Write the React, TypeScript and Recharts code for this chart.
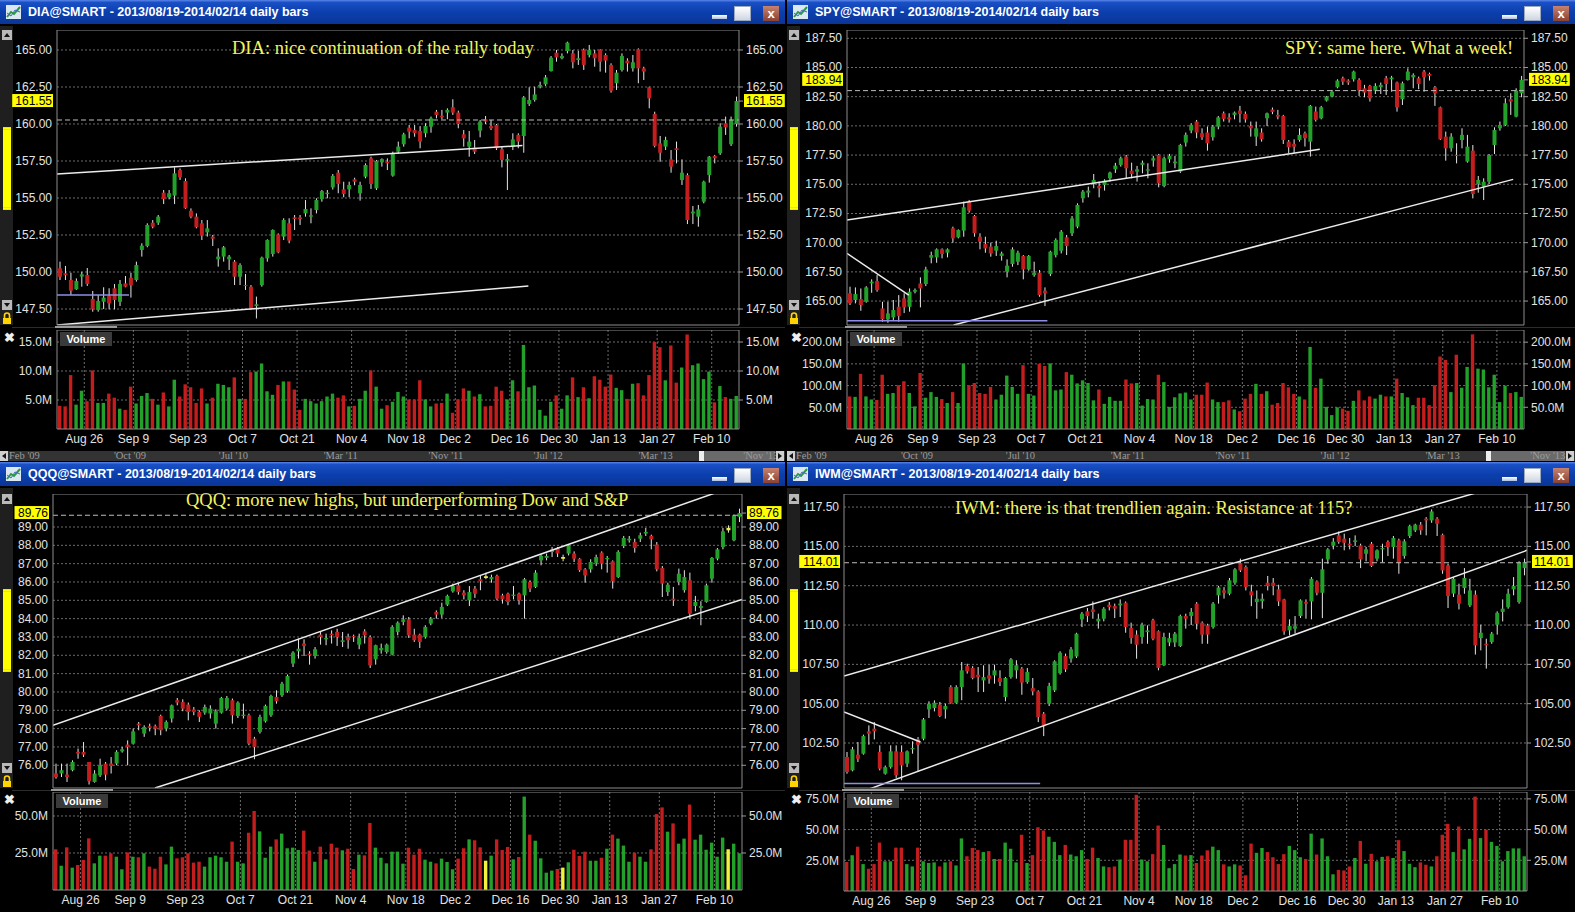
import React from 'react'
import { ComposedChart, Bar, Cell, XAxis, YAxis, CartesianGrid, ReferenceLine } from 'recharts'

// trading-day slots 0..124 (2013/08/19 - 2014/02/14)
const dateTicks = [5, 14, 24, 34, 44, 54, 64, 73, 83, 92, 101, 110, 120]
const dateLabels = ['Aug 26', 'Sep 9', 'Sep 23', 'Oct 7', 'Oct 21', 'Nov 4', 'Nov 18', 'Dec 2', 'Dec 16', 'Dec 30', 'Jan 13', 'Jan 27', 'Feb 10']
const scrollLabels = ["Feb '09", "'Oct '09", "'Jul '10", "'Mar '11", "'Nov '11", "'Jul '12", "'Mar '13", "'Nov '13"]

const diaOpen = [150.25,149.91,149.46,148.83,149.69,149.80,148.18,147.43,147.99,148.40,
148.90,147.99,149.23,149.61,149.46,151.49,151.76,153.33,153.33,155.36,
155.05,155.16,156.89,156.15,154.14,153.74,153.29,152.68,152.39,150.86,
151.04,150.86,150.70,149.68,149.12,149.01,147.70,149.12,150.92,151.22,
152.54,152.39,153.29,153.69,153.69,153.96,153.74,154.19,154.93,155.27,
155.72,156.71,155.59,155.59,156.26,155.32,156.44,157.68,155.65,157.41,
157.45,156.51,158.13,158.63,159.75,159.59,159.53,159.37,159.82,160.83,
160.56,160.77,161.13,160.77,159.30,158.47,158.40,159.55,160.32,159.86,
159.93,158.29,157.52,158.47,159.26,159.19,161.35,161.62,162.52,162.68,
163.58,164.82,164.44,164.93,164.77,164.32,165.00,164.66,164.77,165.00,
164.66,163.99,162.75,163.65,164.28,163.76,165.05,163.76,162.48,160.68,
158.69,158.47,157.61,158.36,156.22,156.55,153.96,153.74,154.75,156.55,
157.84,158.02,160.05,158.63,160.00]
const diaHigh = [150.70,150.41,149.95,149.57,150.02,150.27,148.72,148.45,148.97,148.90,
149.19,149.46,149.73,149.95,150.70,151.94,153.29,153.51,153.85,155.54,
155.54,157.07,157.00,156.33,154.30,153.96,153.51,153.51,152.50,151.60,
151.76,151.15,150.81,150.59,149.86,149.12,148.34,151.04,152.21,152.88,
152.61,153.63,153.63,153.85,153.85,154.86,154.30,154.98,155.54,155.54,
156.62,156.89,156.10,156.10,156.37,156.10,157.34,157.79,157.57,157.68,
157.68,158.13,158.81,159.41,159.93,159.93,159.86,160.05,160.50,160.95,
160.95,161.06,161.67,160.90,159.59,159.53,158.92,160.27,160.54,160.27,
160.00,158.47,157.97,159.37,159.37,161.89,162.48,162.52,162.86,163.31,
164.59,165.00,164.77,165.56,165.00,164.95,165.10,165.34,165.00,165.05,
164.77,164.10,163.65,164.77,164.44,164.66,165.11,163.87,162.52,160.83,
159.19,159.14,158.24,158.81,157.61,156.67,154.46,154.53,156.17,157.84,
157.91,160.05,160.50,160.50,161.85]
const diaLow = [149.46,149.46,148.45,148.79,149.01,149.06,147.32,147.32,147.50,147.48,
147.48,147.70,148.97,148.27,149.35,151.04,151.67,152.95,153.18,154.59,
154.91,154.59,156.22,154.26,153.63,152.95,152.16,152.39,151.76,150.36,
150.70,150.14,149.12,149.12,148.79,147.43,146.86,149.01,150.70,151.04,
151.27,152.16,151.94,152.84,153.18,153.74,153.29,153.96,154.75,154.98,
155.57,155.32,155.05,155.05,155.86,154.82,156.33,155.61,155.54,157.12,
156.89,156.44,158.02,158.47,159.03,159.14,158.36,159.10,159.41,160.38,
160.32,160.32,160.61,159.71,158.47,157.79,157.97,159.10,160.00,159.59,
158.24,157.07,155.54,158.24,158.36,158.06,161.22,161.51,162.41,162.57,
163.54,164.21,164.37,164.77,163.76,163.99,163.65,164.50,163.87,163.54,
163.47,162.12,162.30,163.54,163.54,163.54,162.75,162.97,161.06,158.42,
157.45,158.24,156.71,157.34,155.88,153.24,153.24,153.06,154.64,156.04,
157.34,157.91,159.26,158.51,159.82]
const diaClose = [149.68,149.78,148.74,149.39,149.84,149.19,147.48,148.04,148.27,147.88,
148.11,149.19,149.01,149.10,150.47,151.78,153.18,153.06,153.74,154.93,
155.32,156.67,156.40,154.30,153.74,153.02,152.45,152.95,152.25,151.04,
151.67,151.04,149.68,150.47,149.05,147.48,147.82,150.97,152.16,152.84,
151.33,153.51,152.12,153.58,153.58,154.26,153.83,154.86,155.47,155.36,
156.49,155.95,155.27,155.88,156.10,155.88,157.23,155.95,157.50,157.63,
157.34,158.02,158.47,159.30,159.48,159.37,158.81,159.86,160.38,160.61,
160.45,160.95,160.77,160.00,159.03,158.81,158.13,160.16,160.16,159.71,
158.36,157.57,157.64,158.96,158.81,161.80,161.62,162.00,162.64,163.15,
164.48,164.50,164.59,165.50,164.17,164.44,163.99,165.00,164.44,164.21,
164.28,162.25,163.47,164.59,164.10,164.17,163.76,163.54,161.73,158.51,
158.06,158.92,157.12,158.24,156.71,153.51,154.08,154.23,156.10,157.79,
157.68,159.82,159.77,160.27,161.55]
const diaVol = [4.0,3.9,9.3,4.2,6.6,4.8,10.1,4.5,4.5,6.1,
5.4,3.5,3.3,7.3,4.4,5.7,6.2,5.2,4.2,6.3,
3.9,8.5,5.6,7.7,7.2,4.5,7.0,4.4,5.4,7.8,
7.6,7.2,8.9,5.2,5.2,9.8,9.9,11.3,6.5,5.9,
7.6,8.2,8.2,6.8,3.3,5.2,4.8,4.4,4.8,5.6,
6.1,5.4,5.8,3.9,4.0,5.2,6.6,10.1,7.3,3.5,
4.1,4.7,6.4,5.6,5.1,5.1,8.4,5.1,3.9,4.4,
4.5,6.1,2.8,5.1,7.0,6.6,5.6,6.0,3.9,4.0,
7.3,6.6,5.1,8.4,6.5,14.5,7.2,7.5,3.3,2.3,
4.7,5.8,3.5,5.8,8.9,5.5,7.2,5.3,9.1,8.5,
7.3,9.4,7.1,6.7,5.2,7.8,7.9,5.8,9.3,15.0,
14.1,8.4,14.4,8.0,10.6,16.3,11.0,11.3,8.6,9.9,
4.6,7.4,5.5,5.2,5.7]

const spyOpen = [165.66,165.09,165.17,164.94,166.51,166.71,164.37,163.43,163.60,164.51,
165.23,164.51,165.80,166.51,166.46,168.71,168.74,169.43,169.14,171.23,
170.46,171.03,173.51,172.28,170.51,169.88,169.66,169.31,168.86,167.51,
168.17,168.37,168.86,167.71,167.23,167.43,165.88,167.31,168.94,169.31,
170.46,170.80,171.37,173.80,174.28,175.03,174.85,174.94,175.51,176.28,
176.66,177.37,176.17,176.08,176.66,176.17,177.03,177.51,174.85,177.14,
176.80,176.08,178.57,179.60,180.37,179.37,179.43,179.03,179.94,181.08,
180.73,180.94,181.31,181.03,179.99,179.08,179.43,180.65,181.40,180.94,
180.85,178.65,178.45,178.79,179.37,178.65,181.23,180.65,182.16,182.51,
183.31,184.08,183.88,183.99,183.93,183.22,183.42,183.02,183.31,184.08,
183.99,183.71,182.28,183.93,184.16,184.08,184.65,184.45,183.31,181.59,
179.08,178.08,177.51,178.79,176.94,177.88,175.02,174.79,175.22,178.36,
179.79,180.08,182.28,180.79,182.79]
const spyHigh = [166.23,166.17,166.08,166.28,166.86,167.23,164.94,164.94,165.09,165.51,
165.66,166.08,166.08,167.03,167.94,169.23,169.51,169.51,169.51,171.37,
171.14,173.51,173.66,172.37,170.80,170.51,170.00,170.17,169.23,168.57,
169.60,169.31,168.94,168.94,168.37,167.66,166.17,169.31,170.37,171.08,
170.66,172.28,173.37,174.51,174.80,175.88,175.23,175.43,176.08,176.83,
177.37,177.51,176.85,176.57,177.03,176.80,177.43,177.60,177.37,177.60,
177.43,178.46,179.43,180.23,180.51,179.79,179.94,180.08,180.85,181.23,
181.08,181.23,181.71,181.23,180.37,180.37,179.79,181.14,181.57,181.37,
180.94,178.79,178.85,179.79,179.51,181.79,181.65,181.71,182.56,183.08,
183.99,184.22,183.99,184.73,184.08,183.51,183.51,183.65,183.71,184.28,
184.28,183.79,183.79,184.93,184.50,184.22,184.79,184.56,183.42,181.65,
179.51,179.37,178.51,179.79,179.23,178.36,175.71,175.51,177.59,179.88,
180.37,182.36,182.79,183.22,184.28]
const spyLow = [164.66,164.80,164.17,164.86,165.71,165.80,163.23,163.14,163.31,163.23,
163.97,164.09,165.66,164.46,166.28,168.23,168.28,168.66,168.74,170.00,
170.37,170.51,172.57,170.51,169.43,169.14,168.80,168.86,168.46,167.03,
167.94,168.08,166.86,167.60,167.08,165.37,164.57,167.14,168.74,169.08,
168.94,170.57,171.23,173.43,173.88,174.66,173.88,174.46,175.23,175.97,
176.51,175.51,175.51,175.23,175.94,175.51,176.51,174.74,174.74,176.85,
176.37,175.97,178.23,179.37,178.94,178.80,177.88,178.74,179.71,180.37,
180.28,180.56,180.28,180.28,179.08,178.28,178.65,179.99,181.00,180.56,
178.45,177.65,177.65,178.65,178.23,177.37,180.37,180.56,182.08,182.45,
183.22,183.51,183.51,183.79,182.56,182.45,182.08,182.73,182.73,182.65,
182.93,181.22,181.79,183.88,183.22,183.14,182.93,183.88,181.71,178.79,
177.02,177.79,176.79,178.08,176.85,173.79,174.28,173.65,175.02,177.59,
179.59,179.99,180.94,180.73,182.45]
const spyClose = [164.80,165.60,164.66,166.17,166.66,165.94,163.43,163.94,164.23,163.71,
164.46,165.80,165.94,166.08,167.71,168.94,169.43,169.03,169.43,170.37,
171.08,173.03,172.74,170.80,170.08,169.51,169.08,169.71,169.08,168.03,
169.43,169.14,167.71,168.86,167.43,165.51,165.66,169.23,170.23,170.94,
169.71,172.08,173.23,174.37,174.46,175.37,174.66,175.31,176.00,176.60,
177.23,176.37,175.88,176.28,176.85,176.28,177.23,175.08,177.23,177.43,
176.94,178.37,179.23,180.09,179.43,179.03,178.51,179.94,180.73,180.60,
180.56,181.14,181.03,180.56,179.79,179.79,178.85,181.08,181.20,180.79,
178.79,178.17,178.22,179.23,178.94,181.71,180.51,181.60,182.51,182.93,
183.88,183.79,183.71,184.65,183.02,182.85,182.36,183.42,183.51,183.59,
184.14,181.59,183.65,184.65,184.36,183.59,184.16,184.28,182.79,178.85,
178.08,179.08,177.43,179.23,178.22,174.17,175.37,175.22,177.51,179.65,
180.08,181.94,182.08,183.02,183.94]
const spyVol = [75,74,127,75,68,67,125,81,83,101,
110,83,52,129,72,85,74,69,60,85,
60,151,101,106,83,81,97,68,79,123,
97,81,147,81,77,150,145,151,89,91,
131,125,105,112,106,66,91,58,74,65,
65,114,105,106,54,69,68,125,108,51,
73,82,84,68,79,79,107,68,62,62,
66,45,41,70,81,104,81,87,56,60,
106,96,81,75,68,189,95,116,51,32,
50,47,42,65,89,66,75,70,79,75,
75,116,83,73,55,72,72,55,101,167,
159,85,171,95,143,218,139,137,96,125,
62,100,83,85,74]

const qqqOpen = [75.55,75.55,75.49,75.73,76.73,76.73,76.18,75.09,75.45,76.09,
76.09,76.09,76.76,77.13,77.18,78.27,77.73,78.13,78.13,78.69,
78.00,78.55,79.55,79.45,79.31,79.05,78.91,78.87,78.82,78.27,
78.87,79.09,79.55,78.69,78.69,78.73,77.45,77.82,78.40,78.73,
79.73,79.82,80.04,81.55,82.22,82.64,82.09,81.96,83.13,82.87,
83.18,83.27,82.73,83.00,83.05,82.58,83.31,83.00,81.78,82.27,
82.18,82.04,83.27,83.82,83.96,83.13,83.13,83.00,83.73,84.36,
84.22,84.76,85.49,85.82,85.42,85.00,85.64,86.15,86.22,86.15,
86.33,85.27,85.36,85.24,85.36,85.27,86.00,85.73,87.18,87.31,
87.64,87.85,87.27,87.55,87.55,87.27,86.69,86.69,87.05,87.60,
87.24,87.13,86.27,87.96,88.27,88.18,88.36,88.64,88.51,88.04,
86.76,85.45,85.09,86.00,85.55,86.09,84.69,84.58,84.91,86.18,
87.27,87.91,88.82,88.27,89.55]
const qqqHigh = [76.09,76.09,76.09,76.27,76.91,77.27,76.18,75.73,76.36,76.18,
76.45,76.82,77.00,77.36,78.00,78.36,78.18,78.27,78.22,78.76,
78.45,79.31,79.67,79.60,79.42,79.18,79.00,79.31,79.27,79.05,
79.73,79.78,79.64,79.49,79.36,78.82,77.55,78.76,79.31,79.85,
80.09,80.55,80.95,82.22,82.91,82.87,82.22,82.45,83.27,83.18,
83.36,83.45,83.27,83.18,83.13,83.18,83.42,83.09,82.58,82.64,
82.64,83.64,83.85,84.18,84.09,83.45,83.18,83.64,84.09,84.45,
84.87,85.31,85.91,85.96,85.55,85.78,85.78,86.36,86.51,86.40,
86.40,85.36,85.42,85.78,85.42,86.22,86.09,86.64,87.49,87.55,
87.91,87.91,87.49,88.04,87.67,87.31,86.76,87.24,87.49,87.67,
87.42,87.18,87.73,88.51,88.51,88.36,88.69,88.95,88.58,88.18,
86.87,85.96,85.73,86.73,86.64,86.51,85.24,84.95,85.91,87.36,
87.85,88.95,89.09,89.67,90.00]
const qqqLow = [75.27,75.36,75.09,75.67,76.36,76.45,74.95,75.05,75.36,75.18,
75.55,76.00,76.69,76.00,77.13,77.91,77.55,77.85,77.64,77.64,
77.85,78.33,79.27,78.95,78.45,78.73,78.36,78.76,78.55,78.00,
78.82,79.00,78.27,78.58,78.55,77.09,76.33,77.73,78.33,78.64,
79.36,79.73,79.96,81.36,81.82,81.96,81.49,81.82,82.58,82.55,
82.64,82.51,82.45,82.36,82.73,82.33,82.64,81.31,81.49,82.09,
82.09,82.00,83.09,83.64,82.95,82.73,82.40,82.91,83.64,84.00,
84.04,84.69,85.42,85.31,85.05,84.69,85.13,85.55,86.15,85.96,
85.00,84.82,84.73,85.05,84.76,84.00,85.45,85.67,86.91,87.18,
87.36,87.36,87.13,87.45,87.09,86.55,85.96,86.51,86.87,86.69,
86.51,85.64,86.22,87.85,88.15,87.60,88.18,88.51,87.78,86.58,
85.18,85.24,84.69,85.82,85.42,84.00,84.40,83.64,84.87,85.96,
87.18,87.78,88.69,88.22,89.27]
const qqqClose = [75.36,75.73,75.36,76.18,76.64,76.58,75.13,75.55,76.00,75.49,
75.96,76.73,76.87,77.00,77.85,78.18,78.09,78.04,78.00,77.91,
78.36,79.27,79.42,79.09,78.91,78.91,78.64,79.18,79.09,78.95,
79.67,79.67,78.73,79.42,78.76,77.18,77.00,78.64,79.24,79.78,
79.49,80.45,80.87,82.15,82.36,82.51,82.00,82.33,83.00,82.95,
83.09,83.00,82.82,82.82,83.00,82.95,83.09,81.45,82.55,82.40,
82.58,83.55,83.78,83.96,83.09,82.82,82.73,83.55,84.00,84.22,
84.64,85.24,85.78,85.45,85.27,85.45,85.36,86.04,86.31,86.27,
85.09,85.05,84.91,85.31,85.00,86.15,85.64,86.51,87.42,87.42,
87.78,87.55,87.36,88.00,87.27,86.64,86.36,87.09,87.36,87.00,
87.31,86.04,87.64,88.40,88.36,87.85,88.55,88.73,88.33,86.69,
85.91,85.85,85.00,86.45,86.27,84.27,84.91,84.69,85.82,87.31,
87.78,88.76,88.95,89.64,89.76]
const qqqVol = [27.5,16.4,28.8,15.1,16.9,20.3,34.9,18.0,23.2,23.2,
24.8,22.5,14.0,25.4,22.5,22.1,24.8,15.8,14.4,22.5,
17.3,29.3,21.4,22.1,24.8,18.5,19.1,15.8,22.1,23.2,
22.1,19.1,32.7,19.1,18.0,38.7,53.4,39.6,21.8,29.3,
34.2,38.1,28.2,28.6,27.0,40.1,26.6,19.1,29.3,20.7,
31.3,28.6,26.8,27.9,14.2,23.9,23.4,45.3,28.6,21.8,
18.0,25.9,25.9,17.8,28.6,23.9,27.9,20.5,19.1,18.0,
21.2,18.9,14.0,21.2,28.2,34.2,33.6,28.8,19.8,23.2,
34.2,27.0,29.1,20.7,22.3,63.1,37.4,33.3,21.4,11.7,
13.1,14.2,15.1,18.7,27.2,23.0,25.9,19.8,19.8,21.8,
27.9,37.4,34.7,30.0,19.1,25.2,22.5,19.1,27.5,51.3,
55.8,39.4,45.0,31.3,34.7,57.7,34.0,37.4,27.2,32.0,
22.5,35.4,27.5,31.3,24.8]
const qqqFlatDays = [78, 92, 122]

const iwmOpen = [101.61,100.76,101.76,101.82,103.24,103.41,101.93,100.55,100.97,101.97,
101.93,101.19,102.10,102.73,102.77,104.64,104.72,104.94,104.64,106.06,
105.06,106.06,107.39,107.27,106.84,106.48,106.80,106.80,106.63,105.42,
106.70,107.12,107.23,106.38,105.99,105.78,104.36,105.00,105.85,106.95,
108.03,107.86,108.00,110.36,110.87,110.99,110.23,110.40,111.29,111.21,
111.25,111.42,109.81,109.39,109.24,109.55,110.30,109.61,107.44,108.89,
108.89,108.66,110.57,110.57,111.36,110.15,109.98,109.87,111.89,112.20,
111.99,112.69,113.94,113.69,112.14,111.46,111.52,112.69,112.69,112.27,
111.63,109.66,109.77,110.57,111.46,111.50,112.77,112.05,114.17,115.04,
115.70,115.49,115.17,115.28,115.06,114.53,115.17,114.22,114.81,115.28,
114.96,115.38,114.39,115.66,116.02,116.38,116.76,116.65,116.76,115.74,
113.79,112.00,111.93,112.35,111.25,111.93,109.17,108.81,108.92,110.02,
110.83,111.14,112.27,111.46,113.62]
const iwmHigh = [101.93,102.25,102.56,103.03,103.62,103.83,102.35,101.07,102.35,102.35,
102.35,102.03,102.61,102.88,104.09,105.15,105.21,105.11,105.00,106.17,
106.17,107.65,107.54,107.39,107.33,107.44,107.48,107.48,107.12,106.70,
107.90,107.76,107.33,107.27,106.63,105.85,104.47,106.33,107.76,108.33,
108.18,108.60,109.51,110.83,111.08,111.50,110.72,111.14,111.46,111.36,
111.63,111.50,110.15,109.66,110.15,109.98,110.40,109.66,109.51,109.51,
109.56,110.66,110.72,111.08,111.46,110.23,110.08,111.46,112.49,112.41,
112.99,113.62,114.22,113.79,112.56,112.20,112.00,113.12,112.99,112.56,
111.67,110.36,110.57,111.63,111.63,113.05,112.84,114.22,114.89,115.53,
115.95,115.81,115.53,115.70,115.17,114.96,115.28,114.81,115.17,115.38,
115.66,115.49,115.45,116.38,116.44,116.55,116.86,117.35,116.86,115.81,
113.90,113.05,112.63,113.62,112.94,112.20,110.02,109.13,109.56,110.87,
111.63,112.31,113.05,114.05,114.22]
const iwmLow = [100.55,100.70,101.29,101.76,102.39,102.73,100.76,100.49,100.87,100.28,
100.13,100.97,101.82,100.66,102.67,104.09,104.51,104.15,104.05,105.00,
105.00,105.22,106.91,106.55,105.74,105.74,106.27,106.27,106.12,105.15,
106.59,106.59,105.57,106.27,105.53,103.83,102.94,104.85,105.74,106.85,
107.01,107.61,107.90,109.87,110.19,110.40,109.77,110.23,110.93,110.44,
110.51,109.51,108.81,107.86,108.81,108.81,109.03,107.12,107.39,108.66,
108.60,108.60,109.77,110.00,109.72,108.81,108.81,109.77,111.36,111.68,
111.89,112.56,113.37,112.20,111.20,110.40,111.04,112.20,111.89,111.21,
109.38,109.34,109.45,110.45,110.40,110.36,111.89,110.44,113.90,114.81,
115.17,114.75,114.81,115.02,113.62,114.05,113.69,114.05,113.99,114.39,
114.22,113.26,114.22,115.53,115.91,115.74,115.70,116.50,115.66,113.26,
111.08,111.78,110.99,111.99,111.14,108.12,108.39,107.23,108.81,109.39,
110.23,111.04,111.89,111.36,113.16]
const iwmClose = [100.66,102.10,101.50,102.94,103.09,103.24,100.87,100.97,101.97,100.45,
101.08,101.97,102.18,102.39,104.00,105.00,105.06,104.22,104.85,105.06,
106.06,107.12,107.06,106.63,106.69,106.69,106.59,107.12,106.38,106.63,
107.82,107.44,106.34,107.01,105.78,104.15,103.62,106.12,107.69,108.24,
107.18,108.45,109.45,110.72,110.57,110.83,110.40,111.04,111.14,111.04,
111.36,109.87,109.17,108.75,110.02,109.66,109.13,107.27,109.24,109.17,
109.45,110.57,110.40,110.83,110.08,109.39,109.39,111.36,112.39,112.05,
112.84,113.54,113.47,112.41,111.89,111.67,111.67,112.48,112.48,111.50,
109.60,109.94,109.92,111.57,111.36,112.94,112.05,113.54,114.81,115.30,
115.28,115.23,115.06,115.38,114.17,114.81,113.75,114.75,114.89,114.96,
115.53,113.96,115.32,116.29,116.38,116.02,116.65,117.22,116.44,113.47,
111.84,112.94,111.36,112.99,112.20,108.71,109.51,108.71,109.45,110.78,
111.04,111.99,112.48,113.96,114.01]
const iwmVol = [23.6,29.2,36.1,21.9,18.1,21.9,39.4,24.2,24.2,35.3,
35.3,21.9,20.0,35.3,24.2,22.8,23.3,20.0,23.3,24.2,
20.8,42.8,28.3,35.0,33.3,31.7,32.5,26.1,26.1,39.4,
34.4,23.3,45.8,22.8,29.2,51.9,49.2,44.2,40.0,29.2,
37.5,29.7,28.3,33.3,26.1,35.3,26.9,20.0,19.4,20.0,
25.6,41.7,41.7,78.3,25.6,24.2,30.0,53.3,37.5,18.6,
21.9,29.7,28.9,29.2,22.8,28.9,33.1,36.1,33.3,21.7,
20.0,21.7,20.8,12.8,38.6,31.1,35.0,31.7,27.5,21.9,
30.0,36.7,33.3,27.5,26.1,46.7,29.7,42.8,28.3,13.6,
17.2,16.7,20.0,26.9,40.8,22.2,30.3,24.2,27.8,28.3,
26.9,41.4,32.5,22.2,19.4,23.3,21.4,20.0,28.3,45.8,
54.7,31.7,52.5,33.9,42.5,76.9,43.1,50.0,40.0,36.7,
24.2,32.5,34.7,34.7,28.3]

const GREEN = '#22a02a'
const RED = '#c41d1d'
const FLAT = '#f2f23c'
const SANS = 'Arial, "Liberation Sans", sans-serif'
const SERIF = '"Times New Roman", "Liberation Serif", serif'
const SLOTS = 125

// trend line: [x1, y1, x2, y2] in slot / price units
type TrendLine = { seg: number[]; color: string }

interface PanelProps {
  left: number
  top: number
  width: number
  ticker: string
  note: string
  noteX: number
  noteY: number
  open: number[]
  high: number[]
  low: number[]
  close: number[]
  vol: number[]
  flat?: number[]
  plotLeft: number
  plotRight: number
  priceTop: number
  priceBottom: number
  volTop: number
  volBottom: number
  priceDomain: number[]
  priceTicks: number[]
  volDomain: number[]
  volTicks: number[]
  lines: TrendLine[]
  scroll?: boolean
}

function Candle(props: any) {
  const { x, y, width, height, payload } = props
  if (!payload || height == null || isNaN(y)) return null
  const { o, h, l, c, color } = payload
  const k = h > l ? height / (h - l) : 0
  const cx = x + width / 2
  const yo = y + (h - o) * k
  const yc = y + (h - c) * k
  const top = Math.min(yo, yc)
  const bh = Math.max(1, Math.abs(yo - yc))
  return (
    <g>
      <line x1={cx} x2={cx} y1={y} y2={y + Math.max(height, 1)} stroke="#e6e6e6" strokeWidth={1} />
      <rect x={x} y={top} width={width} height={bh} fill={color} />
    </g>
  )
}

function PriceTick(props: any) {
  const { x, y, payload, side, last } = props
  const v = payload.value as number
  const txt = v.toFixed(2)
  const anchor = side === 'left' ? 'end' : 'start'
  if (Math.abs(v - last) < 1e-9) {
    const w = txt.length * 6.3 + 3
    const rx = side === 'left' ? x - w + 1 : x - 2
    return (
      <g>
        <rect x={rx} y={y - 7} width={w} height={13} fill="#ffff00" />
        <text x={x} y={y} dy={4} textAnchor={anchor} fill="#000" fontSize={12} fontFamily={SANS}>{txt}</text>
      </g>
    )
  }
  return (
    <text x={x} y={y} dy={4} textAnchor={anchor} fill="#e2e2e2" fontSize={12} fontFamily={SANS}>{txt}</text>
  )
}

function ArrowBox({ top, up }: { top: number; up: boolean }) {
  return (
    <svg style={{ position: 'absolute', left: 2, top }} width={10} height={10}>
      <rect x={0} y={0} width={10} height={10} fill="#b9b9b9" />
      <polygon points={up ? '2,7 8,7 5,3' : '2,3 8,3 5,7'} fill="#111" />
    </svg>
  )
}

function Panel(p: PanelProps) {
  const flat = p.flat ?? []
  const rows = p.open.map((o, i) => {
    const c = p.close[i]
    const color = flat.includes(i) ? FLAT : c >= o ? GREEN : RED
    return { x: i + 0.5, range: [p.low[i], p.high[i]], o, h: p.high[i], l: p.low[i], c, color, vol: p.vol[i] ?? 0 }
  })
  const last = p.close[p.close.length - 1]
  const prev = p.close[p.close.length - 2]
  const leftW = p.plotLeft - 12
  const rightW = p.width - p.plotRight
  const priceH = p.priceBottom - p.priceTop
  const volH = p.volBottom - p.volTop
  const axisLine = { stroke: '#8c8c8c' }
  const volFmt = (v: number) => v.toFixed(1) + 'M'

  return (
    <div style={{ position: 'absolute', left: p.left, top: p.top, width: p.width, height: 462, background: '#000', overflow: 'hidden' }}>
      {/* title bar */}
      <div style={{ position: 'absolute', left: 0, top: 0, width: p.width, height: 24, background: 'linear-gradient(180deg,#5a86e8 0%,#1a50c6 10%,#0c3fae 50%,#0a3597 100%)' }}>
        <svg style={{ position: 'absolute', left: 6, top: 5 }} width={15} height={14}>
          <rect x={0} y={0} width={15} height={14} fill="#dbe8f2" />
          <polyline points="1,12 5,7 8,9 14,2" fill="none" stroke="#2e9a3a" strokeWidth={2} />
          <polyline points="1,8 5,11 9,5 14,7" fill="none" stroke="#3a6fc0" strokeWidth={1} />
        </svg>
        <div style={{ position: 'absolute', left: 28, top: 5, color: '#fff', fontWeight: 'bold', fontSize: 12.5, fontFamily: SANS, whiteSpace: 'nowrap', lineHeight: '14px' }}>
          {p.ticker}@SMART - 2013/08/19-2014/02/14 daily bars
        </div>
        <div style={{ position: 'absolute', left: p.width - 73, top: 15, width: 15, height: 4, background: 'linear-gradient(#ffffff,#aebfe0)' }} />
        <div style={{ position: 'absolute', left: p.width - 51, top: 6, width: 15, height: 13, background: 'linear-gradient(#ffffff,#cfd6e2)', border: '1px solid #9aa8c0' }} />
        <div style={{ position: 'absolute', left: p.width - 22, top: 6, width: 16, height: 15, background: 'linear-gradient(#c6826e,#8a4232)', color: '#fff', fontWeight: 'bold', fontSize: 13, fontFamily: SANS, textAlign: 'center', lineHeight: '15px' }}>x</div>
      </div>

      {/* left strip of the price pane */}
      <div style={{ position: 'absolute', left: 0, top: 26, width: 13, height: p.priceBottom - 26, background: '#1f1f1f' }} />
      <ArrowBox top={p.priceTop} up />
      <div style={{ position: 'absolute', left: 3, top: 127, width: 8, height: 83, background: '#ffff00', borderTop: '3px double #cfcfcf', borderBottom: '3px double #cfcfcf', boxSizing: 'border-box' }} />
      <ArrowBox top={p.priceBottom - 25} up={false} />
      <svg style={{ position: 'absolute', left: 2, top: p.priceBottom - 13 }} width={10} height={13}>
        <path d="M2.5,6 V3.5 a2.5,2.5 0 0 1 5,0 V6" fill="none" stroke="#ffd400" strokeWidth={1.6} />
        <rect x={1} y={6} width={8} height={6} fill="#ffd400" />
      </svg>

      {/* price pane */}
      <div style={{ position: 'absolute', left: 0, top: p.priceTop - 8 }}>
        <ComposedChart width={p.width} height={priceH + 13} data={rows} margin={{ top: 8, right: 0, bottom: 4, left: 12 }}>
          <CartesianGrid yAxisId="p" stroke="#6c6c6c" strokeDasharray="2 2" horizontalValues={p.priceTicks} verticalValues={dateTicks} />
          <XAxis dataKey="x" type="number" domain={[0, SLOTS]} ticks={dateTicks} allowDataOverflow tick={false} tickLine={false} height={1} axisLine={axisLine} />
          <YAxis yAxisId="p" orientation="left" width={leftW} domain={p.priceDomain} allowDataOverflow ticks={[...p.priceTicks, last]} interval={0} tickSize={3} tickMargin={2} tickLine={false} axisLine={axisLine} tick={<PriceTick side="left" last={last} />} />
          <YAxis yAxisId="q" orientation="right" width={rightW} domain={p.priceDomain} allowDataOverflow ticks={[...p.priceTicks, last]} interval={0} tickSize={4} tickMargin={3} tickLine={{ stroke: '#9a9a9a' }} axisLine={axisLine} tick={<PriceTick side="right" last={last} />} />
          <ReferenceLine yAxisId="p" y={p.priceDomain[1]} stroke="#8c8c8c" ifOverflow="hidden" />
          <ReferenceLine yAxisId="p" y={prev} stroke="#bdbdbd" strokeDasharray="5 3" />
          <Bar yAxisId="p" dataKey="range" barSize={4} isAnimationActive={false} shape={(props: any) => <Candle {...props} />} />
          {p.lines.map((ln, i) => (
            <ReferenceLine
              key={i}
              yAxisId="p"
              ifOverflow="hidden"
              stroke={ln.color}
              strokeWidth={1.5}
              segment={[{ x: ln.seg[0], y: ln.seg[1] }, { x: ln.seg[2], y: ln.seg[3] }]}
            />
          ))}
        </ComposedChart>
      </div>

      {/* pane splitter */}
      <div style={{ position: 'absolute', left: 12, top: p.priceBottom + 2, width: p.width - 12, height: 1, background: '#2c2c2c' }} />
      <div style={{ position: 'absolute', left: p.plotLeft - 2, top: p.priceBottom + 1, width: 62, height: 2, background: '#9a9a9a' }} />

      {/* volume pane */}
      <div style={{ position: 'absolute', left: 0, top: p.volTop - 8 }}>
        <ComposedChart width={p.width} height={volH + 30} data={rows} margin={{ top: 8, right: 0, bottom: 0, left: 12 }}>
          <CartesianGrid yAxisId="v" stroke="#6c6c6c" strokeDasharray="2 2" horizontalValues={p.volTicks} verticalValues={dateTicks} />
          <XAxis dataKey="x" type="number" domain={[0, SLOTS]} ticks={dateTicks} interval={0} allowDataOverflow height={22} tickLine={false} tickSize={0} tickMargin={5} axisLine={axisLine}
            tickFormatter={(v: number) => dateLabels[dateTicks.indexOf(v)] ?? ''} tick={{ fill: '#e2e2e2', fontSize: 12, fontFamily: SANS }} />
          <YAxis yAxisId="v" orientation="left" width={leftW} domain={p.volDomain} allowDataOverflow ticks={p.volTicks} interval={0} tickSize={3} tickMargin={2} tickLine={false} axisLine={axisLine}
            tickFormatter={volFmt} tick={{ fill: '#e2e2e2', fontSize: 12, fontFamily: SANS }} />
          <YAxis yAxisId="w" orientation="right" width={rightW} domain={p.volDomain} allowDataOverflow ticks={p.volTicks} interval={0} tickSize={4} tickMargin={3} tickLine={{ stroke: '#9a9a9a' }} axisLine={axisLine}
            tickFormatter={volFmt} tick={{ fill: '#e2e2e2', fontSize: 12, fontFamily: SANS }} />
          <ReferenceLine yAxisId="v" y={p.volDomain[1]} stroke="#8c8c8c" ifOverflow="hidden" />
          <Bar yAxisId="v" dataKey="vol" barSize={3.4} isAnimationActive={false}>
            {rows.map((r, i) => (
              <Cell key={i} fill={r.color} />
            ))}
          </Bar>
        </ComposedChart>
      </div>
      <div style={{ position: 'absolute', left: 4, top: p.volTop + 1, color: '#eee', fontWeight: 'bold', fontSize: 13, fontFamily: SANS, lineHeight: '13px' }}>✖</div>
      <div style={{ position: 'absolute', left: p.plotLeft + 3, top: p.volTop + 2, width: 52, height: 14, background: '#3a3a3a', color: '#fff', fontWeight: 'bold', fontSize: 11, fontFamily: SANS, textAlign: 'center', lineHeight: '14px' }}>Volume</div>

      {/* time scroll bar */}
      {p.scroll && (
        <div style={{ position: 'absolute', left: 0, top: 451, width: p.width, height: 10, background: '#333' }}>
          <div style={{ position: 'absolute', left: 699, top: 0, width: p.width - 709, height: 10, background: '#6a6a6a' }} />
          <div style={{ position: 'absolute', left: 699, top: 0, width: 5, height: 10, background: '#eee' }} />
          {scrollLabels.map((s, i) => (
            <div key={s} style={{ position: 'absolute', left: 9 + i * 104.9, top: -1, color: '#9c9c9c', fontSize: 10.5, fontFamily: SERIF, whiteSpace: 'nowrap', lineHeight: '11px' }}>{s}</div>
          ))}
          <svg style={{ position: 'absolute', left: 0, top: 0 }} width={8} height={10}>
            <rect width={8} height={10} fill="#cfcfcf" />
            <polygon points="6,2 6,8 2,5" fill="#111" />
          </svg>
          <svg style={{ position: 'absolute', left: p.width - 9, top: 0 }} width={8} height={10}>
            <rect width={8} height={10} fill="#cfcfcf" />
            <polygon points="2,2 2,8 6,5" fill="#111" />
          </svg>
        </div>
      )}

      {/* annotation */}
      <div style={{ position: 'absolute', left: p.noteX, top: p.noteY, color: '#f4f45c', fontSize: 18.5, fontFamily: SERIF, whiteSpace: 'nowrap', lineHeight: '18px' }}>{p.note}</div>
    </div>
  )
}

const WHITE = '#ececec'
const LAVENDER = '#8e8ee8'

export default function App() {
  return (
    <div style={{ position: 'relative', width: 1575, height: 912, background: '#000', overflow: 'hidden' }}>
      <style>{'body{margin:0;background:#000}'}</style>
      <Panel
        left={0} top={0} width={785} ticker="DIA"
        note="DIA: nice continuation of the rally today" noteX={232} noteY={39}
        open={diaOpen} high={diaHigh} low={diaLow} close={diaClose} vol={diaVol}
        plotLeft={57} plotRight={739} priceTop={30} priceBottom={325} volTop={330} volBottom={429}
        priceDomain={[146.42, 166.35]} priceTicks={[147.5, 150, 152.5, 155, 157.5, 160, 162.5, 165]}
        volDomain={[0, 17.07]} volTicks={[5, 10, 15]}
        lines={[
          { seg: [0, 156.62, 85.3, 158.54], color: WHITE },
          { seg: [0, 146.42, 86.4, 149.05], color: WHITE },
          { seg: [0, 148.45, 13.2, 148.45], color: LAVENDER },
        ]}
        scroll
      />
      <Panel
        left={787} top={0} width={788} ticker="SPY"
        note="SPY: same here.  What a week!" noteX={498} noteY={39}
        open={spyOpen} high={spyHigh} low={spyLow} close={spyClose} vol={spyVol}
        plotLeft={60} plotRight={737} priceTop={30} priceBottom={325} volTop={330} volBottom={429}
        priceDomain={[162.95, 188.21]} priceTicks={[165, 167.5, 170, 172.5, 175, 177.5, 180, 182.5, 185, 187.5]}
        volDomain={[0, 228]} volTicks={[50, 100, 150, 200]}
        lines={[
          { seg: [0, 171.93, 87.3, 177.99], color: WHITE },
          { seg: [19.7, 162.95, 123, 175.42], color: WHITE },
          { seg: [0, 169.08, 11.4, 165.5], color: WHITE },
          { seg: [0, 163.31, 37, 163.31], color: LAVENDER },
        ]}
        scroll
      />
      <Panel
        left={0} top={462} width={785} ticker="QQQ"
        note="QQQ: more new highs, but underperforming Dow and S&P" noteX={186} noteY={29}
        open={qqqOpen} high={qqqHigh} low={qqqLow} close={qqqClose} vol={qqqVol} flat={qqqFlatDays}
        plotLeft={53} plotRight={742} priceTop={32} priceBottom={326} volTop={330} volBottom={428}
        priceDomain={[74.76, 90.8]} priceTicks={[76, 77, 78, 79, 80, 81, 82, 83, 84, 85, 86, 87, 88, 89]}
        volDomain={[0, 66.2]} volTicks={[25, 50]}
        lines={[
          { seg: [0, 78.18, 125, 91.37], color: WHITE },
          { seg: [18.5, 74.76, 125, 85.05], color: WHITE },
        ]}
      />
      <Panel
        left={787} top={462} width={788} ticker="IWM"
        note="IWM: there is that trendlien again. Resistance at 115?" noteX={168} noteY={37}
        open={iwmOpen} high={iwmHigh} low={iwmLow} close={iwmClose} vol={iwmVol}
        plotLeft={57} plotRight={740} priceTop={32} priceBottom={326} volTop={330} volBottom={429}
        priceDomain={[99.64, 118.33]} priceTicks={[102.5, 105, 107.5, 110, 112.5, 115, 117.5]}
        volDomain={[0, 80.6]} volTicks={[25, 50, 75]}
        lines={[
          { seg: [0, 106.76, 125, 119.34], color: WHITE },
          { seg: [4.5, 99.56, 125, 114.75], color: WHITE },
          { seg: [0, 104.47, 14, 102.56], color: WHITE },
          { seg: [0, 99.92, 35.9, 99.92], color: LAVENDER },
        ]}
      />
    </div>
  )
}
